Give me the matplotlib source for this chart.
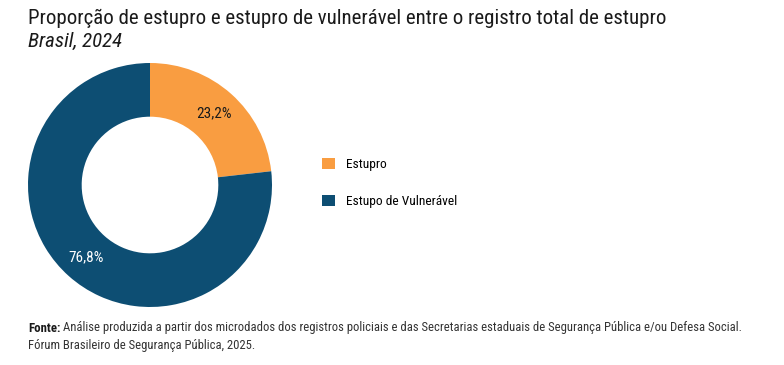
import numpy as np
import matplotlib.pyplot as plt
from matplotlib.patches import Patch

# dados
categorias = ['Estupro', 'Estupo de Vulnerável']
valores = [23.2, 76.8]
rotulos = ['23,2%', '76,8%']
cores = ['#F99D41', '#0D4E73']
cores_texto = ['#1a1a1a', 'white']

titulo = 'Proporção de estupro e estupro de vulnerável entre o registro total de estupro'
subtitulo = 'Brasil, 2024'
fonte1 = 'Análise produzida a partir dos microdados dos registros policiais e das Secretarias estaduais de Segurança Pública e/ou Defesa Social.'
fonte2 = 'Fórum Brasileiro de Segurança Pública, 2025.'

plt.rcParams['font.family'] = ['Roboto Condensed', 'DejaVu Sans']

fig = plt.figure(figsize=(7.84, 3.65), dpi=100)
fig.patch.set_facecolor('white')

ax = fig.add_axes([28/784, 58/365, 244/784, 244/365])
wedges, _ = ax.pie(valores, colors=cores, startangle=90, counterclock=False,
                   radius=1, wedgeprops=dict(width=0.44, edgecolor='none'))
ax.set_aspect('equal')
ax.set_xlim(-1, 1)
ax.set_ylim(-1, 1)

# rótulos de percentual no meio de cada fatia
ang0 = 90
for v, txt, ct in zip(valores, rotulos, cores_texto):
    meio = ang0 - v * 3.6 / 2
    ang0 -= v * 3.6
    r = 0.79
    ax.text(r * np.cos(np.radians(meio)), r * np.sin(np.radians(meio)), txt,
            ha='center', va='center', fontsize=11, color=ct)

handles = [Patch(facecolor=c, edgecolor='none') for c in cores]
fig.legend(handles, categorias, loc='upper left', bbox_to_anchor=(310/784, 1 - 146/365),
           frameon=False, fontsize=9.6, handlelength=0.95, handleheight=0.95,
           labelspacing=1.75, handletextpad=0.85)

fig.text(28/784, 1 - 18/365, titulo, fontsize=15, va='center', ha='left', color='#1a1a1a')
fig.text(28/784, 1 - 41/365, subtitulo, fontsize=15, style='italic',
         va='center', ha='left', color='#1a1a1a')

fig.text(28/784, 1 - 328/365, 'Fonte:', fontsize=9.2, weight='bold', va='center', ha='left',
         color='#1a1a1a')
fig.text(63/784, 1 - 328/365, fonte1, fontsize=9.1, va='center', ha='left', color='#333333')
fig.text(28/784, 1 - 346/365, fonte2, fontsize=9.1, va='center', ha='left', color='#333333')

fig.savefig('out.png', dpi=100, facecolor='white')
